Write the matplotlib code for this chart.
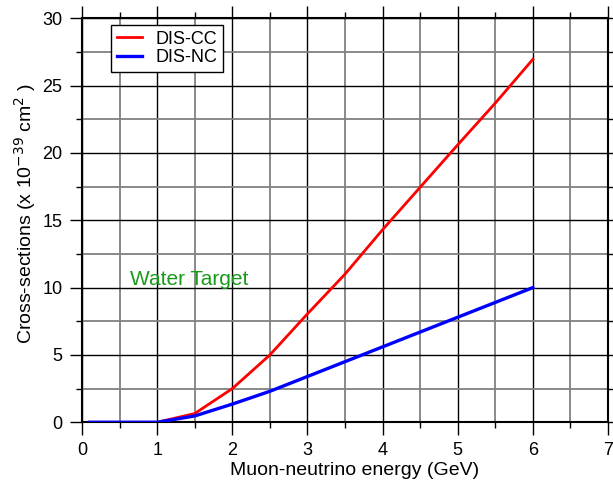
import matplotlib
matplotlib.use('Agg')
import matplotlib.pyplot as plt

plt.rcParams['font.family'] = ['Liberation Sans', 'DejaVu Sans']

energy = [0.1, 0.5, 1.0, 1.5, 2.0, 2.5, 3.0, 3.5, 4.0, 4.5, 5.0, 5.5, 6.0]       #GeV
dis_cc = [0.0, 0.0, 0.0, 0.65, 2.5, 5.0, 8.05, 11.0, 14.3, 17.45, 20.6, 23.7, 26.95]
dis_nc = [0.0, 0.0, 0.0, 0.47, 1.35, 2.3, 3.4, 4.5, 5.6, 6.7, 7.8, 8.9, 10.0]
x_ticks = [0, 1, 2, 3, 4, 5, 6, 7]
y_ticks = [0, 5, 10, 15, 20, 25, 30]

fig = plt.figure(figsize=(6.13, 4.86), dpi=100)
ax = fig.add_axes([0.1338, 0.1311, 0.858, 0.8313])          #pixel-matched axes box

ax.plot(energy, dis_cc, color='#ff0000', lw=2.0, label='DIS-CC', zorder=3)
ax.plot(energy, dis_nc, color='#0000ff', lw=2.4, label='DIS-NC', zorder=3)

ax.set_xlim(0, 7)
ax.set_ylim(0, 30)
ax.set_xticks(x_ticks)
ax.set_yticks(y_ticks)
ax.set_xticks([v + 0.5 for v in x_ticks[:-1]], minor=True)
ax.set_yticks([v + 2.5 for v in y_ticks[:-1]], minor=True)

ax.grid(which='major', color='black', lw=1.0)                #black at labelled ticks
ax.grid(which='minor', color='#808080', lw=1.3)              #gray in between
ax.set_axisbelow(True)

ax.tick_params(which='both', direction='out', top=True, right=True, labelsize=13, pad=5)
ax.tick_params(which='major', length=9, width=1.0)
ax.tick_params(which='minor', length=4.5, width=1.0)
for side in ax.spines.values():
    side.set_linewidth(1.5)

ax.set_xlabel('Muon-neutrino energy (GeV)', fontsize=14, labelpad=2)
ax.set_ylabel('Cross-sections (x 10$^{-39}$ cm$^{2}$ )', fontsize=14, labelpad=3)
ax.xaxis.label.set_x(0.519)                                  #labels sit a bit off-centre
ax.yaxis.label.set_y(0.516)

ax.text(0.64, 10.6, 'Water Target', color='#1a9a1a', fontsize=15, va='center', ha='left')

leg = ax.legend(loc='upper left', bbox_to_anchor=(0.056, 0.983), borderaxespad=0,
                fancybox=False, framealpha=1, edgecolor='black', fontsize=13,
                handlelength=1.4, handletextpad=0.75, borderpad=0.3, labelspacing=0.1)
leg.get_frame().set_linewidth(1.0)

fig.savefig('out.png', dpi=100)
